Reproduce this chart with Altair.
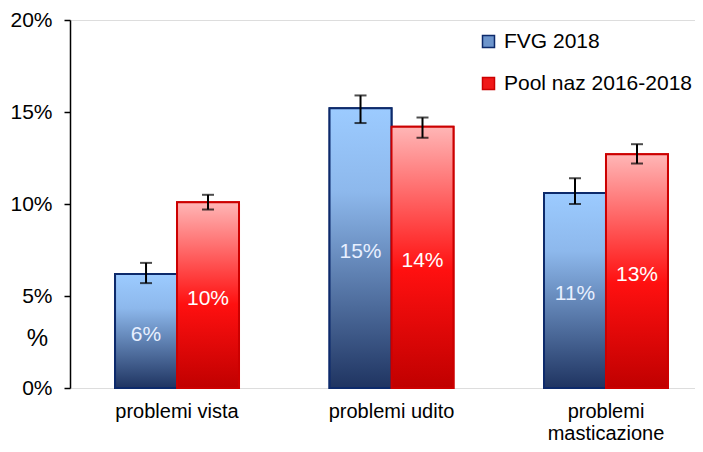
import altair as alt
import pandas as pd

categories = ["problemi vista", "problemi udito", "problemi masticazione"]
series_names = ["FVG 2018", "Pool naz 2016-2018"]
fvg_values = [6.2, 15.2, 10.6]
fvg_low = [5.7, 14.4, 10.0]
fvg_high = [6.8, 15.9, 11.4]
fvg_labels = ["6%", "15%", "11%"]
pool_values = [10.1, 14.2, 12.7]
pool_low = [9.7, 13.6, 12.2]
pool_high = [10.5, 14.7, 13.25]
pool_labels = ["10%", "14%", "13%"]

rows = []
for i, c in enumerate(categories):
    rows.append(dict(category=c, series=series_names[0], value=fvg_values[i],
                     lo=fvg_low[i], hi=fvg_high[i], label=fvg_labels[i]))
    rows.append(dict(category=c, series=series_names[1], value=pool_values[i],
                     lo=pool_low[i], hi=pool_high[i], label=pool_labels[i]))
df = pd.DataFrame(rows)
df["half"] = df["value"] / 2

FONT = "Liberation Sans"

blue_grad = {"gradient": "linear", "x1": 0, "y1": 0, "x2": 0, "y2": 1,
             "stops": [{"offset": 0, "color": "#9ccbff"},
                       {"offset": 0.3, "color": "#8db8ec"},
                       {"offset": 1, "color": "#1f3461"}]}
red_grad = {"gradient": "linear", "x1": 0, "y1": 0, "x2": 0, "y2": 1,
            "stops": [{"offset": 0, "color": "#ffb6b6"},
                      {"offset": 0.55, "color": "#ff1010"},
                      {"offset": 1, "color": "#c00000"}]}

x_enc = alt.X("category:N", sort=categories, title=None,
              scale=alt.Scale(paddingInner=0.422, paddingOuter=0.168, align=0.625),
              axis=alt.Axis(labelAngle=0, domain=False, ticks=False, labelPadding=13,
                            labelFontSize=20, labelFont=FONT, labelColor="#000000",
                            labelLineHeight=22,
                            labelExpr="datum.value == 'problemi masticazione' ? ['problemi', 'masticazione'] : datum.value"))
xo_enc = alt.XOffset("series:N", sort=series_names,
                     scale=alt.Scale(paddingInner=0, paddingOuter=0))

y_scale = alt.Scale(domain=[0, 20], nice=False)
y_enc = alt.Y("value:Q", scale=y_scale, title="%",
              axis=alt.Axis(values=[0, 5, 10, 15, 20], labelExpr="datum.value + '%'",
                            grid=False, domainColor="#000000", domainWidth=1.5,
                            tickColor="#000000", tickWidth=1.5, tickSize=6,
                            labelPadding=12, labelFontSize=21, labelFont=FONT,
                            labelColor="#000000",
                            titleAngle=0, titleX=-33, titleY=318, titleAlign="center",
                            titleBaseline="middle", titleFontSize=24, titleFont=FONT,
                            titleFontWeight="normal", titleColor="#000000"))

base = alt.Chart(df)

legend_bars = base.mark_bar(strokeWidth=2).encode(
    x=x_enc, xOffset=xo_enc, y=y_enc,
    fill=alt.Fill("series:N", sort=series_names,
                  scale=alt.Scale(domain=series_names, range=["#6d95cc", "#f01818"]),
                  legend=alt.Legend(title=None, orient="none", legendX=408, legendY=11,
                                    symbolType="square", symbolSize=144,
                                    symbolStrokeWidth=1.5, labelFontSize=21,
                                    labelFont=FONT, labelColor="#000000", labelLimit=0,
                                    labelOffset=5, rowPadding=20, padding=0)),
    stroke=alt.Stroke("series:N", sort=series_names,
                      scale=alt.Scale(domain=series_names, range=["#0d2a6b", "#cc0000"]),
                      legend=None),
)

grad_bars = base.mark_bar(strokeWidth=2).encode(
    x=x_enc, xOffset=xo_enc, y=y_enc,
    fill=alt.condition("datum.series === 'FVG 2018'", alt.value(blue_grad), alt.value(red_grad)),
    stroke=alt.condition("datum.series === 'FVG 2018'", alt.value("#0d2a6b"), alt.value("#cc0000")),
)

err_rule = base.mark_rule(color="#000000", strokeWidth=2).encode(
    x=x_enc, xOffset=xo_enc, y=alt.Y("lo:Q", scale=y_scale), y2="hi:Q")

cap_lo = base.mark_tick(color="#000000", thickness=2, size=12).encode(
    x=x_enc, xOffset=xo_enc, y=alt.Y("lo:Q", scale=y_scale))
cap_hi = base.mark_tick(color="#000000", thickness=2, size=12).encode(
    x=x_enc, xOffset=xo_enc, y=alt.Y("hi:Q", scale=y_scale))

labels = base.mark_text(fontSize=21, font=FONT, baseline="middle", dy=4).encode(
    x=x_enc, xOffset=xo_enc, y=alt.Y("half:Q", scale=y_scale),
    text="label:N",
    color=alt.condition("datum.series === 'FVG 2018'", alt.value("#e8f0ff"), alt.value("#ffffff")),
)

chart = alt.layer(legend_bars, grad_bars, err_rule, cap_lo, cap_hi, labels).properties(
    width=625, height=368,
    autosize=alt.AutoSizeParams(type="none"),
    padding={"left": 62, "top": 12, "right": 0, "bottom": 55},
).configure_view(stroke=None).configure(background="#ffffff")

chart.save("out.html", embed_options={"renderer": "svg", "actions": False})
